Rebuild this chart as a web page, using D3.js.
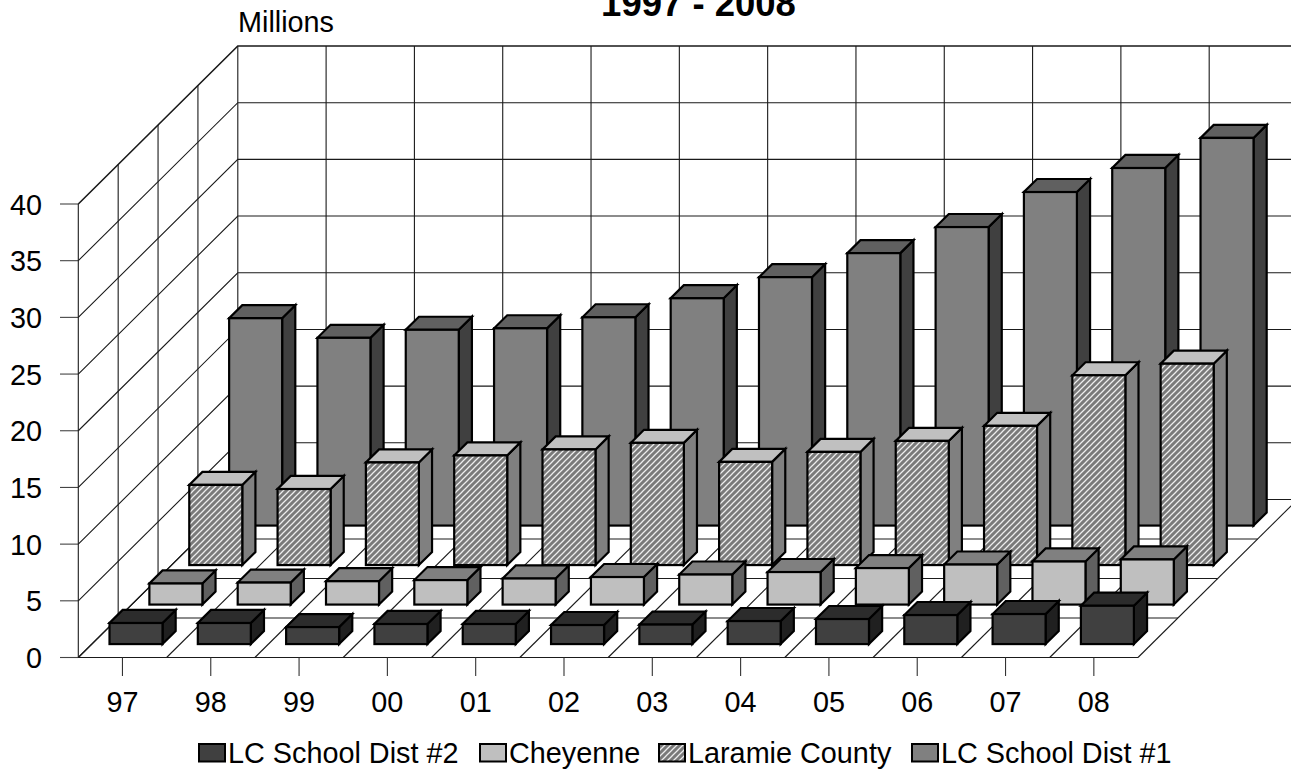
<!DOCTYPE html>
<html>
<head>
<meta charset="utf-8">
<script src="https://cdn.jsdelivr.net/npm/d3@7"></script>
<style>
html,body{margin:0;padding:0;background:#fff;overflow:hidden}
text{font-family:"Liberation Sans",Arial,sans-serif;fill:#000}
</style>
</head>
<body>
<svg id="chart" width="1291" height="772"></svg>
<script>
const years = ["97","98","99","00","01","02","03","04","05","06","07","08"];
const seriesNames = ["LC School Dist #2","Cheyenne","Laramie County","LC School Dist #1"];
const dist2 = [1.86,1.86,1.50,1.77,1.77,1.68,1.72,2.03,2.21,2.56,2.65,3.38];
const cheyenne = [1.86,1.94,2.06,2.16,2.30,2.43,2.65,2.87,3.22,3.53,3.80,3.98];
const laramie = [7.07,6.71,9.05,9.67,10.20,10.78,9.10,9.98,10.95,12.28,16.74,17.76];
const dist1 = [18.29,16.56,17.27,17.40,18.37,20.05,21.91,24.03,26.33,29.42,31.54,34.19];
const yTicks = [0,5,10,15,20,25,30,35,40];
const seriesValues = [dist2,cheyenne,laramie,dist1];
const faceColors = [
  {front:"#404040",top:"#2c2c2c",side:"#202020"},
  {front:"#bfbfbf",top:"#808080",side:"#606060"},
  {front:"url(#hatch)",top:"#c0c0c0",side:"#808080"},
  {front:"#808080",top:"#606060",side:"#404040"}
];

const svg = d3.select("#chart");
const defs = svg.append("defs");
const pat = defs.append("pattern").attr("id","hatch").attr("patternUnits","userSpaceOnUse")
  .attr("width",6).attr("height",6);
pat.append("rect").attr("width",6).attr("height",6).attr("fill","#7a7a7a");
pat.append("path").attr("d","M-1.5,1.5L1.5,-1.5M-1.5,7.5L7.5,-1.5M4.5,7.5L7.5,4.5")
  .attr("stroke","#eeeeee").attr("stroke-width",1.25);

const leftEdge = 78.3, rightEdge = 1138;
const x = d3.scaleBand().domain(years).range([leftEdge,rightEdge]);
const y = d3.scaleLinear().domain([0,40]).range([657.5,204]);
const depth = d3.scaleLinear().domain([0,4]).range([0,1]);
const depthDX = 159.5, depthDY = -158;
const P = (px,py,d)=>[px+depthDX*depth(d), py+depthDY*depth(d)];
const pts = a=>a.map(p=>p.join(",")).join(" ");

// walls and floor
const grid = svg.append("g").attr("fill","none").attr("stroke","#1a1a1a").attr("stroke-width",1.1);
yTicks.forEach(t=>{
  const a=P(leftEdge,y(t),0), b=P(leftEdge,y(t),4), c=P(rightEdge,y(t),4);
  grid.append("path").attr("d",`M${a}L${b}L${c}`).attr("stroke-width",t==40?1.6:1.1);
  grid.append("line").attr("x1",60).attr("x2",leftEdge).attr("y1",y(t)).attr("y2",y(t)).attr("stroke","#444");
});
x.domain().concat(["end"]).forEach(c=>{
  const px = c==="end"? rightEdge : x(c);
  const a=P(px,y(0),0), b=P(px,y(0),4), top=P(px,y(40),4);
  grid.append("path").attr("d",`M${b}L${top}`);
  grid.append("path").attr("d",`M${a}L${b}`);
});
d3.range(0,4).forEach(d=>{
  const l=P(leftEdge,y(0),d), r=P(rightEdge,y(0),d), t=P(leftEdge,y(40),d);
  grid.append("path").attr("d",`M${l}L${r}`);
  grid.append("path").attr("d",`M${l}L${t}`);
});

// bars, back row first
const barW = 53, gapD = 0.34;
[3,2,1,0].forEach(r=>{
  const g = svg.append("g").attr("stroke","#000").attr("stroke-width",2.2).attr("stroke-linejoin","miter");
  years.forEach((yr,i)=>{
    const v = seriesValues[r][i];
    const x0 = x(yr)+(x.bandwidth()-barW)/2, x1 = x0+barW;
    const d0 = r+gapD, d1 = r+gapD+0.33;
    const b = y(0), t = y(v);
    const c = faceColors[r];
    g.append("polygon").attr("points",pts([P(x1,b,d0),P(x1,b,d1),P(x1,t,d1),P(x1,t,d0)])).attr("fill",c.side);
    g.append("polygon").attr("points",pts([P(x0,t,d0),P(x1,t,d0),P(x1,t,d1),P(x0,t,d1)])).attr("fill",c.top);
    const p0=P(x0,t,d0), p1=P(x1,b,d0);
    g.append("rect").attr("x",p0[0]).attr("y",p0[1]).attr("width",p1[0]-p0[0]).attr("height",p1[1]-p0[1]).attr("fill",c.front);
  });
});

// axes labels
const fs = 28.8;
yTicks.forEach(t=>{
  svg.append("text").attr("x",42).attr("y",y(t)+10.5).attr("text-anchor","end").attr("font-size",fs).text(t);
});
years.forEach(yr=>{
  const cx = x(yr)+x.bandwidth()/2;
  svg.append("line").attr("x1",cx).attr("x2",cx).attr("y1",657.5).attr("y2",676).attr("stroke","#333").attr("stroke-width",1.1);
  svg.append("text").attr("x",cx).attr("y",712).attr("text-anchor","middle").attr("font-size",fs).text(yr);
});
svg.append("text").attr("x",238).attr("y",31.5).attr("font-size",fs).text("Millions");
svg.append("text").attr("x",698.5).attr("y",16).attr("text-anchor","middle").attr("font-size",36.5).attr("font-weight","bold").text("1997 - 2008");

// legend
const legendX = [199,480,659,912];
seriesNames.forEach((n,i)=>{
  svg.append("rect").attr("x",legendX[i]).attr("y",744).attr("width",26).attr("height",17.5)
    .attr("fill",faceColors[i].front).attr("stroke","#000").attr("stroke-width",2);
  svg.append("text").attr("x",legendX[i]+29).attr("y",762.5).attr("font-size",fs).text(n);
});
</script>
</body>
</html>
